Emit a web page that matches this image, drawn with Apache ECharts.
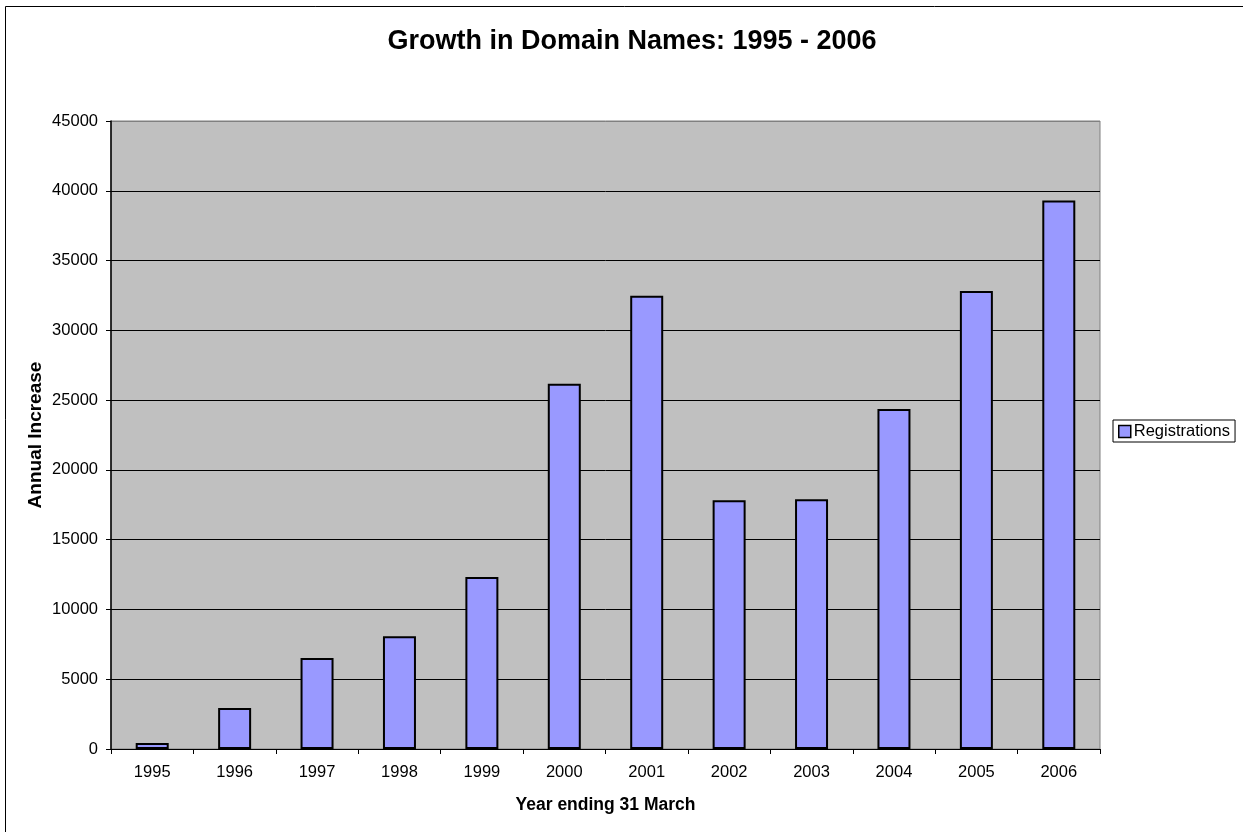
<!DOCTYPE html>
<html>
<head>
<meta charset="utf-8">
<script src="https://cdn.jsdelivr.net/npm/echarts@6/dist/echarts.min.js"></script>
<style>
html,body{margin:0;padding:0;background:#fff;}
#chart{width:1243px;height:832px;}
</style>
</head>
<body>
<div id="chart"></div>
<script>
var categories = ['1995','1996','1997','1998','1999','2000','2001','2002','2003','2004','2005','2006'];
var registrations = [430, 2940, 6520, 8080, 12330, 26170, 32470, 17830, 17900, 24370, 32810, 39310];
var yTicks = { min: 0, max: 45000, interval: 5000 };

var chart = echarts.init(document.getElementById('chart'), null, {renderer: 'canvas'});
var font = 'Arial, "Liberation Sans", sans-serif';
chart.setOption({
  animation: false,
  backgroundColor: '#ffffff',
  title: {
    text: 'Growth in Domain Names: 1995 - 2006',
    left: 627,
    textAlign: 'center',
    top: 23,
    textStyle: { fontFamily: font, fontSize: 27, fontWeight: 'bold', color: '#000' }
  },
  graphic: [{
    type: 'rect',
    shape: { x: 5.5, y: 6.5, width: 1240, height: 830 },
    style: { fill: 'none', stroke: '#000', lineWidth: 1 },
    silent: true,
    z: 100
  }],
  legend: {
    data: ['Registrations'],
    left: 1113,
    top: 420,
    orient: 'vertical',
    icon: 'rect',
    borderColor: '#000',
    borderWidth: 1,
    backgroundColor: '#fff',
    padding: [3, 5, 2, 5],
    itemWidth: 12,
    itemHeight: 12,
    textStyle: { fontFamily: font, fontSize: 16.5, color: '#000', padding: [0, 0, 0, -2] },
    itemStyle: { color: '#9999FF', borderColor: '#000', borderWidth: 1.5 }
  },
  grid: {
    left: 111, right: 143, top: 121, bottom: 83,
    show: true,
    backgroundColor: '#C0C0C0',
    borderColor: '#808080',
    borderWidth: 1
  },
  xAxis: {
    type: 'category',
    data: categories,
    name: 'Year ending 31 March',
    nameLocation: 'middle',
    nameGap: 47,
    nameMoveOverlap: false,
    nameTextStyle: { fontFamily: font, fontSize: 17.5, fontWeight: 'bold', color: '#000' },
    axisLine: { show: true, lineStyle: { color: '#000', width: 1 } },
    axisTick: { show: true, length: 5, alignWithLabel: false, lineStyle: { color: '#000' } },
    axisLabel: { fontFamily: font, fontSize: 16.5, color: '#000', margin: 15 },
    splitLine: { show: false }
  },
  yAxis: {
    type: 'value',
    min: yTicks.min,
    max: yTicks.max,
    interval: yTicks.interval,
    name: 'Annual Increase',
    nameLocation: 'middle',
    nameGap: 66,
    nameMoveOverlap: false,
    nameTextStyle: { fontFamily: font, fontSize: 19, fontWeight: 'bold', color: '#000' },
    axisLine: { show: true, lineStyle: { color: '#000', width: 1.5 } },
    axisTick: { show: true, length: 5, lineStyle: { color: '#000' } },
    axisLabel: { fontFamily: font, fontSize: 16.5, color: '#000', margin: 13, formatter: function (v) { return String(v); } },
    splitLine: { show: true, lineStyle: { color: ['#000','#000','#000','#000','#000','#000','#000','#000','#000','#808080'], width: 1 } }
  },
  series: [{
    name: 'Registrations',
    type: 'bar',
    data: registrations,
    barWidth: 33,
    itemStyle: { color: '#9999FF', borderColor: '#000', borderWidth: 2 }
  }]
});
</script>
</body>
</html>
